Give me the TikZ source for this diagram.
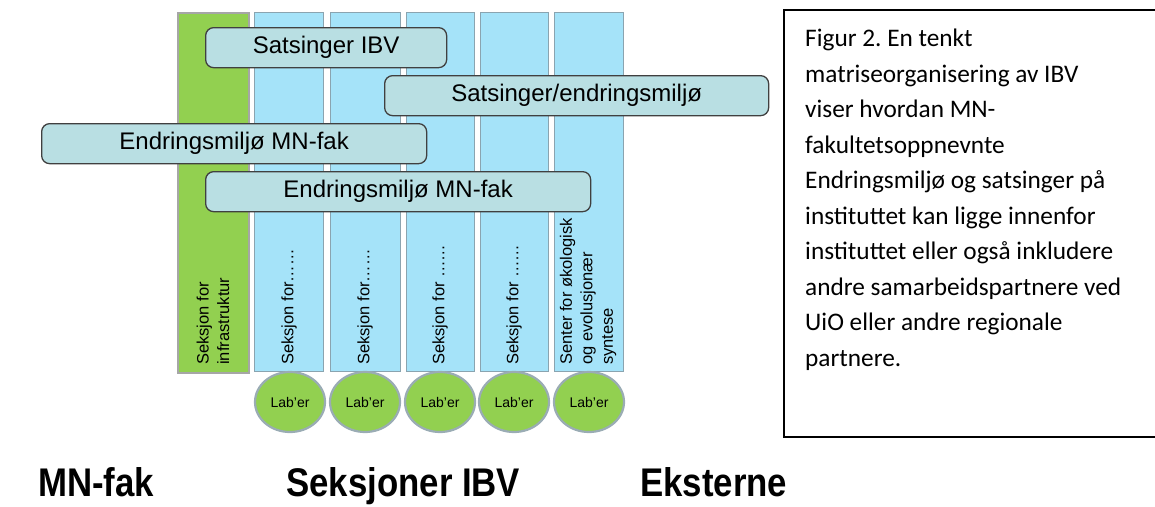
\documentclass[tikz,border=0pt]{standalone}
\usepackage{fontspec}
\setmainfont{Liberation Sans}
\newfontfamily\capfont{Carlito}
\usetikzlibrary{shapes.geometric}
\definecolor{colgreen}{HTML}{92D050}
\definecolor{colblue}{HTML}{A5E3F9}
\definecolor{colbluedraw}{HTML}{8AA4B0}
\definecolor{bargreenborder}{HTML}{A6A6A6}
\definecolor{barfill}{HTML}{B9DFE3}
\definecolor{bardraw}{HTML}{404040}
\definecolor{labdraw}{HTML}{9AACB4}
\tikzset{
  greencol/.style={draw=bargreenborder, line width=2pt, fill=colgreen, anchor=north west, inner sep=0pt},
  bluecol/.style={draw=colbluedraw, line width=1pt, fill=colblue, anchor=north west, inner sep=0pt, minimum width=69pt, minimum height=359pt},
  bar/.style={draw=bardraw, line width=1.3pt, fill=barfill, rounded corners=8pt, anchor=north west, inner sep=0pt, minimum height=40pt, font=\fontsize{24}{28}\selectfont},
  vtext/.style={rotate=90, anchor=west, align=left, inner sep=0pt, font=\fontsize{16.5}{20.5}\selectfont},
  lab/.style={ellipse, draw=labdraw, line width=2.2pt, fill=colgreen, minimum width=70pt, minimum height=60pt, inner sep=0pt, font=\fontsize{14}{16}\selectfont},
  bottomlabel/.style={anchor=base west, inner sep=0pt, font=\fontsize{40}{44}\selectfont\bfseries},
}
\begin{document}
\frenchspacing
\begin{tikzpicture}[x=1pt,y=-1pt]
\useasboundingbox (0,0) rectangle (1155,506);
% columns
\node[greencol, minimum width=71pt, minimum height=360pt] (g) at (177,12) {};
\node[bluecol] (c1) at (254,12) {};
\node[bluecol, minimum width=70pt] (c2) at (330,12) {};
\node[bluecol, minimum width=68pt] (c3) at (406,12) {};
\node[bluecol, minimum width=68pt] (c4) at (480,12) {};
\node[bluecol] (c5) at (554,12) {};
% column texts
\node[vtext] (tg) at (213,365) {Seksjon for\\infrastruktur};
\node[vtext] (t1) at (289,365) {Seksjon for……};
\node[vtext] (t2) at (365,365) {Seksjon for……};
\node[vtext] (t3) at (440,365) {Seksjon for ……};
\node[vtext] (t4) at (514,365) {Seksjon for ……};
\node[vtext] (t5) at (588,365) {Senter for økologisk\\og evolusjonær\\syntese};
% bars
\node[bar, minimum width=241pt] (b1) at (205,27) {Satsinger IBV};
\node[bar, minimum width=384pt] (b2) at (384,75) {Satsinger/endringsmiljø};
\node[bar, minimum width=385pt] (b3) at (41,123) {Endringsmiljø MN-fak};
\node[bar, minimum width=385pt] (b4) at (205,171) {Endringsmiljø MN-fak};
% labs
\node[lab] (l1) at (290,402) {Lab'er};
\node[lab] (l2) at (365,402) {Lab'er};
\node[lab] (l3) at (440,402) {Lab'er};
\node[lab] (l4) at (514,402) {Lab'er};
\node[lab] (l5) at (589,402) {Lab'er};
% caption box
\draw[line width=1.5pt] (1165,10) -- (784,10) -- (784,437) -- (1165,437);
\node[anchor=north west, align=left, inner sep=0pt, font=\capfont\fontsize{25.3}{35.5}\selectfont] (cap) at (805,29)
  {Figur 2. En tenkt\\matriseorganisering av IBV\\viser hvordan MN-\\fakultetsoppnevnte\\Endringsmiljø og satsinger på\\instituttet kan ligge innenfor\\instituttet eller også inkludere\\andre samarbeidspartnere ved\\UiO eller andre regionale\\partnere.};
% bottom labels
\node[bottomlabel] (mn) at (38,496) {\scalebox{0.87}[1]{MN-fak}};
\node[bottomlabel] (sek) at (286,496) {\scalebox{0.87}[1]{Seksjoner IBV}};
\node[bottomlabel] (eks) at (640,496) {\scalebox{0.87}[1]{Eksterne}};
\end{tikzpicture}
\end{document}
